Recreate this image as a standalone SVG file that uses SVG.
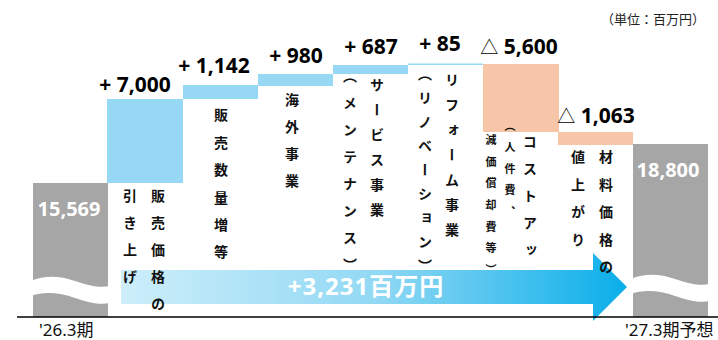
<svg xmlns="http://www.w3.org/2000/svg" width="718" height="340" viewBox="0 0 718 340">
<defs>
<linearGradient id="arrowGrad" x1="121" y1="0" x2="627" y2="0" gradientUnits="userSpaceOnUse">
<stop offset="0" stop-color="#CDEEFA"/>
<stop offset="0.5" stop-color="#92D9F4"/>
<stop offset="1" stop-color="#0AAEEA"/>
</linearGradient>
<style>
.blue{fill:#97D9F5}
.orange{fill:#F7C5A8}
.gray{fill:#A6A6A6}
.wave{fill:#FFFFFF}
.val{font-family:"Noto Sans","Noto Sans CJK JP",sans-serif;font-weight:700;font-size:21px;fill:#000;text-anchor:middle}
.tri{font-family:"Noto Sans CJK JP",sans-serif;font-weight:400;font-size:18px}
.end{font-family:"Noto Sans","Noto Sans CJK JP",sans-serif;font-weight:700;font-size:20px;fill:#FFFFFF;text-anchor:middle}
.vt{font-family:"Noto Sans CJK JP",sans-serif;font-weight:700;font-size:14px;fill:#111;writing-mode:vertical-rl}
.vs{font-family:"Noto Sans CJK JP",sans-serif;font-weight:700;font-size:11px;fill:#111;writing-mode:vertical-rl}
.axis{font-family:"Noto Sans","Noto Sans CJK JP",sans-serif;font-size:17px;fill:#111}
.unit{font-family:"Noto Sans CJK JP",sans-serif;font-size:13px;fill:#222;text-anchor:end}
</style>
</defs>
<rect width="718" height="340" fill="#FFFFFF"/>

<text class="unit" x="705" y="24">（単位：百万円）</text>

<g id="connectors">
<polygon points="121,270 593,270 593,253 627,287 593,321 593,304 121,304" fill="url(#arrowGrad)"/>
<text x="366" y="295" font-family="'Noto Sans','Noto Sans CJK JP',sans-serif" font-weight="700" font-size="24" fill="#FFFFFF" text-anchor="middle" letter-spacing="1">+3,231百万円</text>
</g>

<g id="start-2026">
<rect class="gray" x="33" y="183" width="75" height="134"/>
<path class="wave" d="M31,281 C45,275 60,276 75,281 C90,286 100,288 110,286 L110,303 C100,305 90,303 75,298 C60,293 45,291 31,296 Z"/>
<text class="end" x="69" y="216">15,569</text>
</g>

<g id="price-increase">
<rect class="blue" x="107" y="99" width="76" height="84"/>
<text class="val" x="135" y="92">+ 7,000</text>
<text class="vt" x="158" y="189" letter-spacing="13">販売価格の</text>
<text class="vt" x="130" y="189" letter-spacing="13">引き上げ</text>
</g>

<g id="volume-increase">
<rect class="blue" x="183" y="85" width="75" height="14"/>
<text class="val" x="214" y="73">+ 1,142</text>
<text class="vt" x="221" y="108" letter-spacing="13.4">販売数量増等</text>
</g>

<g id="overseas">
<rect class="blue" x="258" y="74" width="75" height="12"/>
<text class="val" x="296" y="63">+ 980</text>
<text class="vt" x="292" y="93" letter-spacing="13">海外事業</text>
</g>

<g id="service">
<rect class="blue" x="333" y="65" width="75" height="9"/>
<text class="val" x="371" y="54">+ 687</text>
<text class="vt" x="377" y="78" letter-spacing="11">サービス事業</text>
<text class="vt" x="350" y="69" letter-spacing="13">（メンテナンス）</text>
</g>

<g id="reform">
<rect class="blue" x="408" y="63.5" width="75" height="1.5"/>
<text class="val" x="440" y="51">+ 85</text>
<text class="vt" x="452" y="73" letter-spacing="11">リフォーム事業</text>
<text class="vt" x="425" y="67" letter-spacing="10">（リノベーション）</text>
</g>

<g id="cost-up">
<rect class="orange" x="483" y="64" width="76" height="68"/>
<text class="val" x="519" y="54"><tspan class="tri">△</tspan> 5,600</text>
<text class="vt" x="530" y="135" letter-spacing="13">コストアッ</text>
<text class="vs" x="510" y="120" letter-spacing="10.5">（人件費、</text>
<text class="vs" x="491" y="134.5" letter-spacing="10.6">減価償却費等）</text>
</g>

<g id="material">
<rect class="orange" x="558" y="132" width="75" height="13"/>
<text class="val" x="596" y="123"><tspan class="tri">△</tspan> 1,063</text>
<text class="vt" x="606" y="150" letter-spacing="13.5">材料価格の</text>
<text class="vt" x="578" y="150" letter-spacing="13.5">値上がり</text>
</g>

<g id="end-2027">
<rect class="gray" x="633" y="144" width="75" height="173"/>
<path class="wave" d="M631,279 C645,273 660,274 675,279 C690,284 700,286 710,284 L710,301 C700,303 690,301 675,296 C660,291 645,289 631,294 Z"/>
<text class="end" x="668" y="177">18,800</text>
</g>

<g id="axis">
<line x1="17" y1="317" x2="718" y2="317" stroke="#000" stroke-width="1.5"/>
<text class="axis" x="39" y="336">'26.3期</text>
<text class="axis" x="625" y="336">'27.3期予想</text>
</g>
</svg>
